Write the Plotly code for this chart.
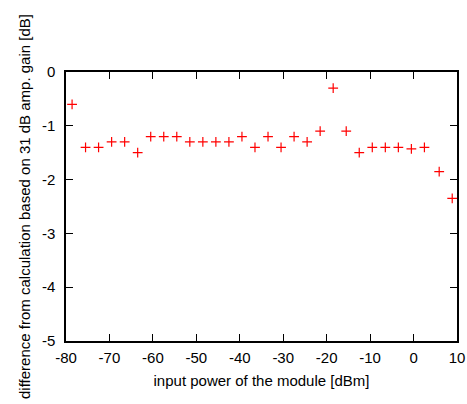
import plotly.graph_objects as go

input_power_dbm = [-78.6, -75.5, -72.5, -69.5, -66.5, -63.5, -60.5, -57.5, -54.5, -51.5,
                   -48.5, -45.5, -42.5, -39.5, -36.5, -33.5, -30.5, -27.5, -24.5, -21.5,
                   -18.5, -15.5, -12.5, -9.5, -6.5, -3.5, -0.5, 2.5, 5.9, 8.9]
difference_db = [-0.6, -1.4, -1.4, -1.3, -1.3, -1.5, -1.2, -1.2, -1.2, -1.3,
                 -1.3, -1.3, -1.3, -1.2, -1.4, -1.2, -1.4, -1.2, -1.3, -1.1,
                 -0.3, -1.1, -1.5, -1.4, -1.4, -1.4, -1.43, -1.4, -1.85, -2.35]

x_ticks = [-80, -70, -60, -50, -40, -30, -20, -10, 0, 10]
y_ticks = [0, -1, -2, -3, -4, -5]

fig = go.Figure()
fig.add_trace(go.Scatter(
    x=input_power_dbm, y=difference_db, mode="markers",
    marker=dict(symbol="cross-thin", size=7, line=dict(color="#ff0000", width=1.2)),
    showlegend=False, cliponaxis=False,
))

axis_common = dict(
    showline=True, linecolor="black", linewidth=1.5, mirror="ticks",
    ticks="inside", ticklen=7, tickwidth=1, tickcolor="black",
    showgrid=False, zeroline=False, automargin=False,
    tickfont=dict(family="Liberation Sans", size=15, color="black"),
)

fig.update_layout(
    width=467, height=404,
    margin=dict(l=66, r=10, t=72, b=63),
    paper_bgcolor="white", plot_bgcolor="white",
    font=dict(family="Liberation Sans", size=15, color="black"),
    xaxis=dict(range=[-80, 10], tickvals=x_ticks, ticktext=[str(v) for v in x_ticks],
               ticklabelstandoff=2,
               title=dict(text="input power of the module [dBm]", standoff=11,
                          font=dict(family="Liberation Sans", size=15)),
               **axis_common),
    yaxis=dict(range=[-5, 0], tickvals=y_ticks, ticktext=[str(v) for v in y_ticks],
               ticklabelstandoff=6,
               title=dict(text="difference from calculation based on 31 dB amp. gain [dB]",
                          standoff=8, font=dict(family="Liberation Sans", size=15)),
               **axis_common),
)

fig.write_html("out.html", config={"displayModeBar": False},
               post_script="document.body.style.margin='0';")
